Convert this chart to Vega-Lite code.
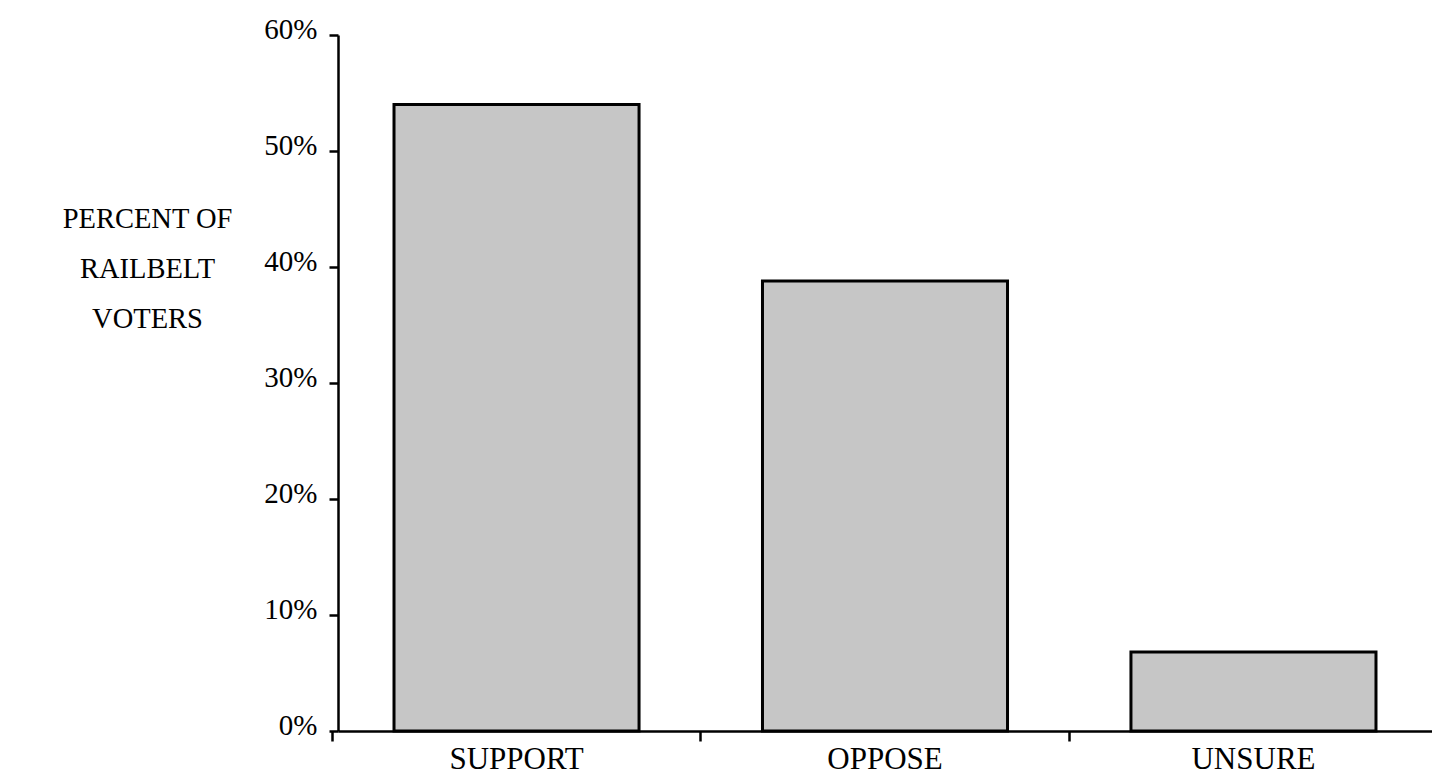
{
  "$schema": "https://vega.github.io/schema/vega-lite/v6.json",
  "autosize": "none",
  "width": 1084,
  "height": 696,
  "padding": {"left": 338, "top": 35, "right": 10, "bottom": 49},
  "background": "white",
  "data": {"values": [
    {"response": "SUPPORT", "percent": 54},
    {"response": "OPPOSE", "percent": 38.8},
    {"response": "UNSURE", "percent": 6.8}
  ]},
  "mark": {"type": "bar", "fill": "#c6c6c6", "stroke": "black", "strokeWidth": 3},
  "encoding": {
    "x": {
      "field": "response", "type": "nominal", "sort": null,
      "scale": {"range": [0, 1094], "paddingInner": 0.335, "paddingOuter": 0.152},
      "axis": {
        "title": null, "labelAngle": 0, "bandPosition": -0.252,
        "labelFont": "Liberation Serif", "labelFontSize": 31, "labelColor": "black",
        "labelPadding": 3, "labelOffset": 0, "tickSize": 10, "tickWidth": 2.5, "tickColor": "black",
        "domainColor": "black", "domainWidth": 2.5, "grid": false,
        "labelBound": false, "labelOverlap": false
      }
    },
    "y": {
      "field": "percent", "type": "quantitative",
      "scale": {"domain": [0, 60], "nice": false},
      "axis": {
        "values": [0, 10, 20, 30, 40, 50, 60],
        "labelExpr": "datum.value + '%'",
        "labelFont": "Liberation Serif", "labelFontSize": 29, "labelColor": "black",
        "labelPadding": 12, "labelOffset": -6,
        "tickSize": 9, "tickWidth": 2.5, "tickColor": "black",
        "domainColor": "black", "domainWidth": 2.5, "grid": false,
        "title": ["PERCENT OF", "RAILBELT", "VOTERS"],
        "titleFont": "Liberation Serif", "titleFontSize": 28.5, "titleFontWeight": "normal",
        "titleColor": "black", "titleAngle": 0, "titleAlign": "center",
        "titleBaseline": "middle", "titleLineHeight": 50,
        "titleX": -191, "titleY": 183
      }
    }
  },
  "config": {"view": {"stroke": null}}
}
